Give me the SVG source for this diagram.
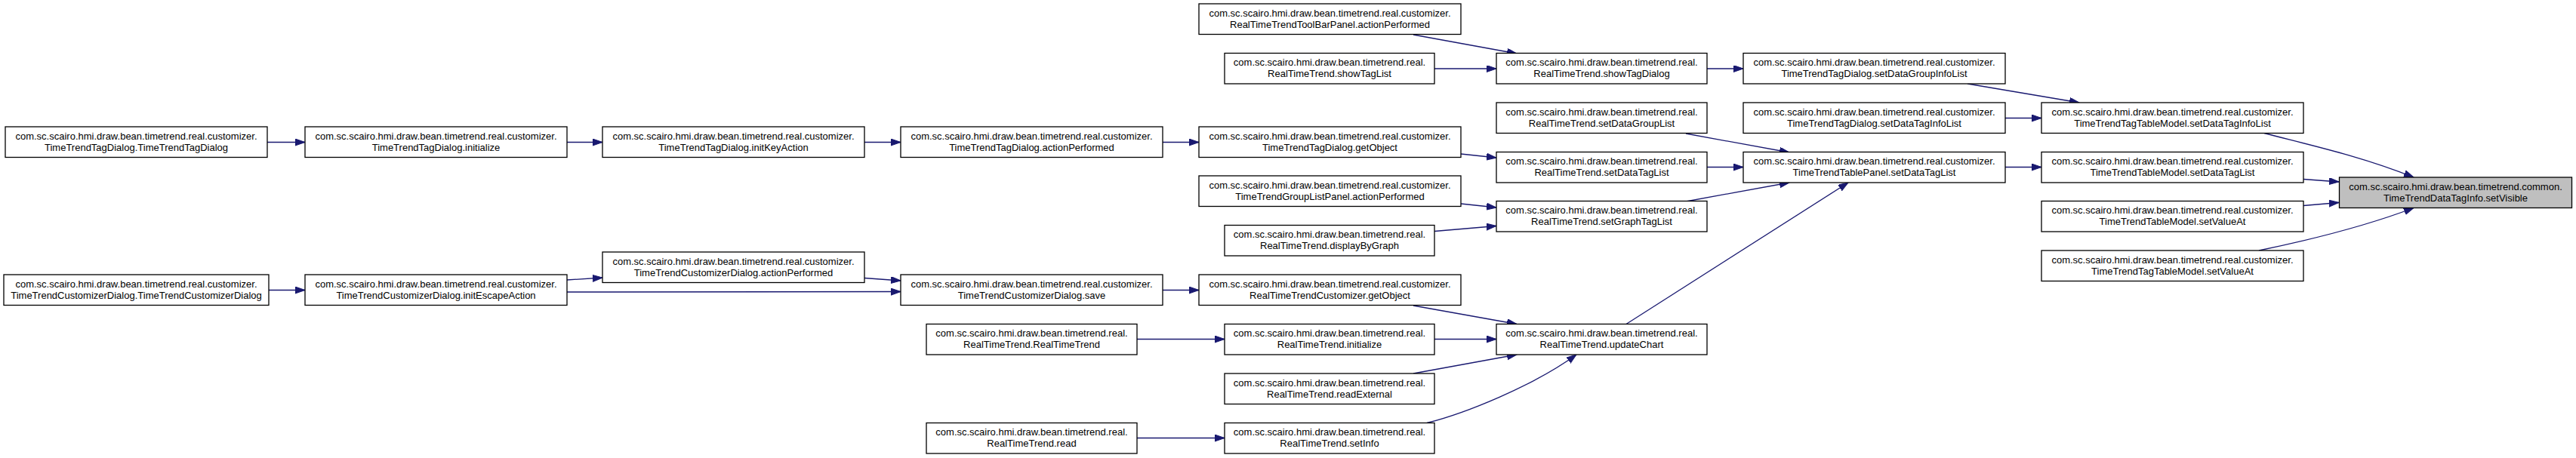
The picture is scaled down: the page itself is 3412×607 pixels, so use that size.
<svg xmlns="http://www.w3.org/2000/svg" width="3412" height="607" viewBox="0 0 3412 607">
<style>
.n rect{fill:#ffffff;stroke:#000000;stroke-width:1.3}
.n.hl rect{fill:#bfbfbf}
.n text{font-family:"Liberation Sans",Arial,sans-serif;font-size:13px;fill:#000000;text-anchor:middle}
.e path{fill:none;stroke:#191970;stroke-width:1.3}
</style>
<defs>
<marker id="ah" markerUnits="userSpaceOnUse" markerWidth="15" markerHeight="11" refX="13" refY="4.5" orient="auto">
<path d="M0,0 L13,4.5 L0,9 Z" fill="#191970" stroke="#191970" stroke-width="1"/>
</marker>
</defs>
<rect x="0" y="0" width="3412" height="607" fill="#ffffff"/>
<g class="e" id="edges" marker-end="url(#ah)">
<path d="M354,188.5 L404,188.5" marker-end="url(#ah)"/>
<path d="M751,188.5 L798,188.5" marker-end="url(#ah)"/>
<path d="M1145,188.5 L1193,188.5" marker-end="url(#ah)"/>
<path d="M1540,188.5 L1588,188.5" marker-end="url(#ah)"/>
<path d="M1935,204 L1982,209" marker-end="url(#ah)"/>
<path d="M1872,46 L2009,71" marker-end="url(#ah)"/>
<path d="M1900,91 L1982,91" marker-end="url(#ah)"/>
<path d="M2261,91 L2309,91" marker-end="url(#ah)"/>
<path d="M2233,177 L2370,202" marker-end="url(#ah)"/>
<path d="M2261,221.5 L2309,221.5" marker-end="url(#ah)"/>
<path d="M2233,267 L2370,242" marker-end="url(#ah)"/>
<path d="M2154,429.5 L2448,242" marker-end="url(#ah)"/>
<path d="M1935,270 L1982,275" marker-end="url(#ah)"/>
<path d="M1900,306.5 L1982,299.5" marker-end="url(#ah)"/>
<path d="M356,384.5 L404,384.5" marker-end="url(#ah)"/>
<path d="M751,371 L798,368" marker-end="url(#ah)"/>
<path d="M751,387 C900,387 1050,387.5 1193,386.5" marker-end="url(#ah)"/>
<path d="M1145,368.5 L1193,372" marker-end="url(#ah)"/>
<path d="M1540,384.5 L1588,384.5" marker-end="url(#ah)"/>
<path d="M1872,405 L2009,429.5" marker-end="url(#ah)"/>
<path d="M1506,449.5 L1622,449.5" marker-end="url(#ah)"/>
<path d="M1900,449.5 L1982,449.5" marker-end="url(#ah)"/>
<path d="M1872,495 L2009,470" marker-end="url(#ah)"/>
<path d="M1506,580.5 L1622,580.5" marker-end="url(#ah)"/>
<path d="M1890,560.5 C1940,548 2030,512 2088,470" marker-end="url(#ah)"/>
<path d="M2606,111 L2754,136" marker-end="url(#ah)"/>
<path d="M2656,156.5 L2704,156.5" marker-end="url(#ah)"/>
<path d="M2656,221.5 L2704,221.5" marker-end="url(#ah)"/>
<path d="M2999,176.5 C3050,190 3125,206 3197,235" marker-end="url(#ah)"/>
<path d="M3051,237.5 L3098,241" marker-end="url(#ah)"/>
<path d="M3051,272.5 L3098,268.5" marker-end="url(#ah)"/>
<path d="M2992,332 C3045,321 3130,301 3197,275.5" marker-end="url(#ah)"/>
</g>
<g class="n" id="n_tagdialog_ctor"><rect x="7" y="168" width="347" height="40.5"/><text x="180.5" y="184.5">com.sc.scairo.hmi.draw.bean.timetrend.real.customizer.</text><text x="180.5" y="199.5">TimeTrendTagDialog.TimeTrendTagDialog</text></g>
<g class="n" id="n_custdialog_ctor"><rect x="5" y="364" width="351" height="40.5"/><text x="180.5" y="380.5">com.sc.scairo.hmi.draw.bean.timetrend.real.customizer.</text><text x="180.5" y="395.5">TimeTrendCustomizerDialog.TimeTrendCustomizerDialog</text></g>
<g class="n" id="n_tagdialog_initialize"><rect x="404" y="168" width="347" height="40.5"/><text x="577.5" y="184.5">com.sc.scairo.hmi.draw.bean.timetrend.real.customizer.</text><text x="577.5" y="199.5">TimeTrendTagDialog.initialize</text></g>
<g class="n" id="n_custdialog_initescape"><rect x="404" y="364" width="347" height="40.5"/><text x="577.5" y="380.5">com.sc.scairo.hmi.draw.bean.timetrend.real.customizer.</text><text x="577.5" y="395.5">TimeTrendCustomizerDialog.initEscapeAction</text></g>
<g class="n" id="n_tagdialog_initkey"><rect x="798" y="168" width="347" height="40.5"/><text x="971.5" y="184.5">com.sc.scairo.hmi.draw.bean.timetrend.real.customizer.</text><text x="971.5" y="199.5">TimeTrendTagDialog.initKeyAction</text></g>
<g class="n" id="n_custdialog_action"><rect x="798" y="334" width="347" height="40.5"/><text x="971.5" y="350.5">com.sc.scairo.hmi.draw.bean.timetrend.real.customizer.</text><text x="971.5" y="365.5">TimeTrendCustomizerDialog.actionPerformed</text></g>
<g class="n" id="n_tagdialog_action"><rect x="1193" y="168" width="347" height="40.5"/><text x="1366.5" y="184.5">com.sc.scairo.hmi.draw.bean.timetrend.real.customizer.</text><text x="1366.5" y="199.5">TimeTrendTagDialog.actionPerformed</text></g>
<g class="n" id="n_custdialog_save"><rect x="1193" y="364" width="347" height="40.5"/><text x="1366.5" y="380.5">com.sc.scairo.hmi.draw.bean.timetrend.real.customizer.</text><text x="1366.5" y="395.5">TimeTrendCustomizerDialog.save</text></g>
<g class="n" id="n_rtt_ctor"><rect x="1227" y="429.5" width="279" height="40.5"/><text x="1366.5" y="446">com.sc.scairo.hmi.draw.bean.timetrend.real.</text><text x="1366.5" y="461">RealTimeTrend.RealTimeTrend</text></g>
<g class="n" id="n_rtt_read"><rect x="1227" y="560.5" width="279" height="40.5"/><text x="1366.5" y="577">com.sc.scairo.hmi.draw.bean.timetrend.real.</text><text x="1366.5" y="592">RealTimeTrend.read</text></g>
<g class="n" id="n_toolbar_action"><rect x="1588" y="5" width="347" height="40.5"/><text x="1761.5" y="21.5">com.sc.scairo.hmi.draw.bean.timetrend.real.customizer.</text><text x="1761.5" y="36.5">RealTimeTrendToolBarPanel.actionPerformed</text></g>
<g class="n" id="n_rtt_showtaglist"><rect x="1622" y="70.5" width="278" height="40.5"/><text x="1761" y="87">com.sc.scairo.hmi.draw.bean.timetrend.real.</text><text x="1761" y="102">RealTimeTrend.showTagList</text></g>
<g class="n" id="n_tagdialog_getobject"><rect x="1588" y="168" width="347" height="40.5"/><text x="1761.5" y="184.5">com.sc.scairo.hmi.draw.bean.timetrend.real.customizer.</text><text x="1761.5" y="199.5">TimeTrendTagDialog.getObject</text></g>
<g class="n" id="n_grouplist_action"><rect x="1588" y="233" width="347" height="40.5"/><text x="1761.5" y="249.5">com.sc.scairo.hmi.draw.bean.timetrend.real.customizer.</text><text x="1761.5" y="264.5">TimeTrendGroupListPanel.actionPerformed</text></g>
<g class="n" id="n_rtt_displaybygraph"><rect x="1622" y="298.5" width="278" height="40.5"/><text x="1761" y="315">com.sc.scairo.hmi.draw.bean.timetrend.real.</text><text x="1761" y="330">RealTimeTrend.displayByGraph</text></g>
<g class="n" id="n_rttcust_getobject"><rect x="1588" y="364" width="347" height="40.5"/><text x="1761.5" y="380.5">com.sc.scairo.hmi.draw.bean.timetrend.real.customizer.</text><text x="1761.5" y="395.5">RealTimeTrendCustomizer.getObject</text></g>
<g class="n" id="n_rtt_initialize"><rect x="1622" y="429.5" width="278" height="40.5"/><text x="1761" y="446">com.sc.scairo.hmi.draw.bean.timetrend.real.</text><text x="1761" y="461">RealTimeTrend.initialize</text></g>
<g class="n" id="n_rtt_readexternal"><rect x="1622" y="495" width="278" height="40.5"/><text x="1761" y="511.5">com.sc.scairo.hmi.draw.bean.timetrend.real.</text><text x="1761" y="526.5">RealTimeTrend.readExternal</text></g>
<g class="n" id="n_rtt_setinfo"><rect x="1622" y="560.5" width="278" height="40.5"/><text x="1761" y="577">com.sc.scairo.hmi.draw.bean.timetrend.real.</text><text x="1761" y="592">RealTimeTrend.setInfo</text></g>
<g class="n" id="n_rtt_showtagdialog"><rect x="1982" y="70.5" width="279" height="40.5"/><text x="2121.5" y="87">com.sc.scairo.hmi.draw.bean.timetrend.real.</text><text x="2121.5" y="102">RealTimeTrend.showTagDialog</text></g>
<g class="n" id="n_rtt_setdatagrouplist"><rect x="1982" y="136" width="279" height="40.5"/><text x="2121.5" y="152.5">com.sc.scairo.hmi.draw.bean.timetrend.real.</text><text x="2121.5" y="167.5">RealTimeTrend.setDataGroupList</text></g>
<g class="n" id="n_rtt_setdatataglist"><rect x="1982" y="201.5" width="279" height="40.5"/><text x="2121.5" y="218">com.sc.scairo.hmi.draw.bean.timetrend.real.</text><text x="2121.5" y="233">RealTimeTrend.setDataTagList</text></g>
<g class="n" id="n_rtt_setgraphtaglist"><rect x="1982" y="266.5" width="279" height="40.5"/><text x="2121.5" y="283">com.sc.scairo.hmi.draw.bean.timetrend.real.</text><text x="2121.5" y="298">RealTimeTrend.setGraphTagList</text></g>
<g class="n" id="n_rtt_updatechart"><rect x="1982" y="429.5" width="279" height="40.5"/><text x="2121.5" y="446">com.sc.scairo.hmi.draw.bean.timetrend.real.</text><text x="2121.5" y="461">RealTimeTrend.updateChart</text></g>
<g class="n" id="n_tagdialog_setdatagroupinfolist"><rect x="2309" y="70.5" width="347" height="40.5"/><text x="2482.5" y="87">com.sc.scairo.hmi.draw.bean.timetrend.real.customizer.</text><text x="2482.5" y="102">TimeTrendTagDialog.setDataGroupInfoList</text></g>
<g class="n" id="n_tagdialog_setdatataginfolist"><rect x="2309" y="136" width="347" height="40.5"/><text x="2482.5" y="152.5">com.sc.scairo.hmi.draw.bean.timetrend.real.customizer.</text><text x="2482.5" y="167.5">TimeTrendTagDialog.setDataTagInfoList</text></g>
<g class="n" id="n_tablepanel_setdatataglist"><rect x="2309" y="201.5" width="347" height="40.5"/><text x="2482.5" y="218">com.sc.scairo.hmi.draw.bean.timetrend.real.customizer.</text><text x="2482.5" y="233">TimeTrendTablePanel.setDataTagList</text></g>
<g class="n" id="n_tagtablemodel_setdatataginfolist"><rect x="2704" y="136" width="347" height="40.5"/><text x="2877.5" y="152.5">com.sc.scairo.hmi.draw.bean.timetrend.real.customizer.</text><text x="2877.5" y="167.5">TimeTrendTagTableModel.setDataTagInfoList</text></g>
<g class="n" id="n_tablemodel_setdatataglist"><rect x="2704" y="201.5" width="347" height="40.5"/><text x="2877.5" y="218">com.sc.scairo.hmi.draw.bean.timetrend.real.customizer.</text><text x="2877.5" y="233">TimeTrendTableModel.setDataTagList</text></g>
<g class="n" id="n_tablemodel_setvalueat"><rect x="2704" y="266.5" width="347" height="40.5"/><text x="2877.5" y="283">com.sc.scairo.hmi.draw.bean.timetrend.real.customizer.</text><text x="2877.5" y="298">TimeTrendTableModel.setValueAt</text></g>
<g class="n" id="n_tagtablemodel_setvalueat"><rect x="2704" y="332" width="347" height="40.5"/><text x="2877.5" y="348.5">com.sc.scairo.hmi.draw.bean.timetrend.real.customizer.</text><text x="2877.5" y="363.5">TimeTrendTagTableModel.setValueAt</text></g>
<g class="n hl" id="n_datataginfo_setvisible"><rect x="3098.5" y="235" width="308" height="40.5"/><text x="3252.5" y="251.5">com.sc.scairo.hmi.draw.bean.timetrend.common.</text><text x="3252.5" y="266.5">TimeTrendDataTagInfo.setVisible</text></g>
</svg>
